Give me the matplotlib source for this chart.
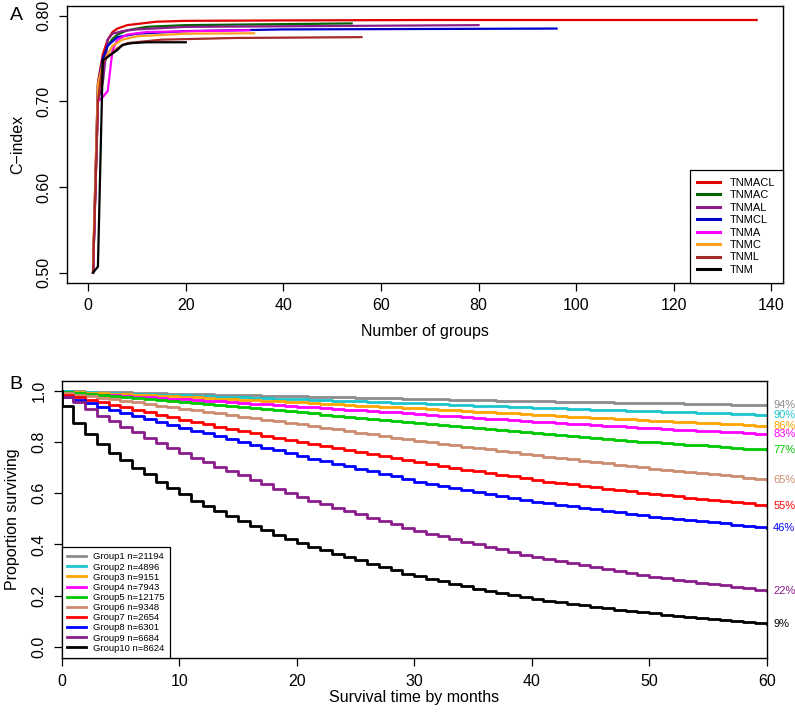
import numpy as np
import matplotlib.pyplot as plt

plt.rcParams['font.family'] = ['Liberation Sans', 'DejaVu Sans']

# ---- Panel A: C-index vs number of groups (polyline vertices)
models = ['TNMACL', 'TNMAC', 'TNMAL', 'TNMCL', 'TNMA', 'TNMC', 'TNML', 'TNM']
model_colors = ['#E00000', '#006400', '#8B1C8B', '#0000CD', '#FF00FF', '#FFA020', '#A52A2A', '#000000']

x_tnmacl = [1, 2, 3, 4, 5, 6, 8, 11, 14, 20, 40, 70, 137]
y_tnmacl = [0.505, 0.722, 0.755, 0.772, 0.781, 0.785, 0.789, 0.791, 0.793, 0.794, 0.7945, 0.795, 0.795]
x_tnmac = [1, 2, 3, 4, 5, 6, 8, 12, 20, 54]
y_tnmac = [0.500, 0.700, 0.745, 0.765, 0.773, 0.778, 0.783, 0.787, 0.789, 0.791]
x_tnmal = [1, 2, 3, 4, 5, 7, 10, 20, 80]
y_tnmal = [0.500, 0.700, 0.722, 0.772, 0.779, 0.782, 0.784, 0.787, 0.789]
x_tnmcl = [1, 2, 3, 4, 6, 10, 20, 40, 96]
y_tnmcl = [0.500, 0.720, 0.750, 0.765, 0.775, 0.779, 0.782, 0.784, 0.785]
x_tnma = [1, 2, 3, 4, 5, 6, 8, 12, 33]
y_tnma = [0.500, 0.700, 0.705, 0.712, 0.760, 0.772, 0.778, 0.781, 0.783]
x_tnmc = [1, 2, 3, 4, 5, 7, 10, 20, 34]
y_tnmc = [0.510, 0.720, 0.745, 0.755, 0.765, 0.772, 0.776, 0.779, 0.7795]
x_tnml = [1, 2, 3, 4, 6, 8, 15, 30, 56]
y_tnml = [0.500, 0.700, 0.745, 0.752, 0.762, 0.768, 0.772, 0.774, 0.775]
x_tnm = [1, 2, 3, 4, 5, 6, 7, 9, 12, 20]
y_tnm = [0.500, 0.507, 0.748, 0.752, 0.756, 0.760, 0.766, 0.768, 0.769, 0.769]

curves_a = [(x_tnmacl, y_tnmacl), (x_tnmac, y_tnmac), (x_tnmal, y_tnmal), (x_tnmcl, y_tnmcl),
            (x_tnma, y_tnma), (x_tnmc, y_tnmc), (x_tnml, y_tnml), (x_tnm, y_tnm)]

# ---- Panel B: Kaplan-Meier curves, monthly survival (value on [t, t+1))
months = list(range(61))
group_labels = ['Group1 n=21194', 'Group2 n=4896', 'Group3 n=9151', 'Group4 n=7943', 'Group5 n=12175',
                'Group6 n=9348', 'Group7 n=2654', 'Group8 n=6301', 'Group9 n=6684', 'Group10 n=8624']
group_colors = ['#8C8C8C', '#1CC4CC', '#FFA500', '#FF00FF', '#00C800',
                '#CC8C70', '#FF0000', '#0000FF', '#8B1C8B', '#000000']
end_labels = ['94%', '90%', '86%', '83%', '77%', '65%', '55%', '46%', '22%', '9%']

g1 = [0.998, 0.997, 0.996, 0.995, 0.994, 0.993, 0.992, 0.991, 0.990, 0.989, 0.988, 0.987, 0.986, 0.985, 0.984,
      0.983, 0.982, 0.981, 0.980, 0.979, 0.978, 0.977, 0.976, 0.975, 0.974, 0.973, 0.972, 0.971, 0.970, 0.969,
      0.968, 0.967, 0.966, 0.965, 0.964, 0.963, 0.962, 0.961, 0.960, 0.959, 0.959, 0.958, 0.957, 0.956, 0.955,
      0.955, 0.954, 0.953, 0.952, 0.952, 0.951, 0.950, 0.950, 0.949, 0.948, 0.948, 0.947, 0.946, 0.946, 0.945, 0.944]
g2 = [0.997, 0.995, 0.994, 0.992, 0.991, 0.989, 0.988, 0.986, 0.985, 0.983, 0.982, 0.980, 0.979, 0.977, 0.975,
      0.974, 0.972, 0.971, 0.969, 0.967, 0.966, 0.964, 0.963, 0.961, 0.959, 0.958, 0.956, 0.955, 0.953, 0.951,
      0.950, 0.948, 0.947, 0.945, 0.943, 0.942, 0.940, 0.939, 0.937, 0.935, 0.934, 0.932, 0.931, 0.929, 0.928,
      0.926, 0.925, 0.923, 0.922, 0.920, 0.919, 0.918, 0.916, 0.915, 0.913, 0.912, 0.911, 0.909, 0.908, 0.906, 0.905]
g3 = [0.996, 0.994, 0.992, 0.990, 0.988, 0.986, 0.984, 0.982, 0.980, 0.978, 0.976, 0.974, 0.972, 0.969, 0.967,
      0.965, 0.963, 0.961, 0.958, 0.956, 0.954, 0.952, 0.949, 0.947, 0.945, 0.942, 0.940, 0.938, 0.935, 0.933,
      0.931, 0.928, 0.926, 0.923, 0.921, 0.918, 0.916, 0.913, 0.911, 0.908, 0.906, 0.904, 0.901, 0.899, 0.897,
      0.894, 0.892, 0.890, 0.888, 0.885, 0.883, 0.881, 0.879, 0.877, 0.875, 0.872, 0.870, 0.868, 0.866, 0.864, 0.862]
g4 = [0.993, 0.990, 0.988, 0.985, 0.982, 0.980, 0.977, 0.974, 0.972, 0.969, 0.966, 0.963, 0.961, 0.958, 0.955,
      0.952, 0.949, 0.947, 0.944, 0.941, 0.938, 0.935, 0.932, 0.929, 0.926, 0.924, 0.921, 0.918, 0.915, 0.912,
      0.909, 0.906, 0.903, 0.900, 0.897, 0.894, 0.891, 0.888, 0.885, 0.882, 0.879, 0.876, 0.874, 0.871, 0.868,
      0.866, 0.863, 0.861, 0.858, 0.855, 0.853, 0.851, 0.848, 0.846, 0.844, 0.841, 0.839, 0.837, 0.835, 0.832, 0.830]
g5 = [0.994, 0.990, 0.986, 0.982, 0.978, 0.975, 0.971, 0.967, 0.963, 0.959, 0.955, 0.951, 0.947, 0.943, 0.939,
      0.935, 0.931, 0.927, 0.923, 0.919, 0.915, 0.911, 0.907, 0.902, 0.898, 0.894, 0.890, 0.886, 0.881, 0.877,
      0.873, 0.869, 0.865, 0.861, 0.857, 0.853, 0.849, 0.845, 0.841, 0.837, 0.833, 0.829, 0.826, 0.822, 0.819,
      0.815, 0.812, 0.808, 0.805, 0.801, 0.798, 0.795, 0.792, 0.789, 0.786, 0.783, 0.780, 0.777, 0.774, 0.771, 0.768]
g6 = [0.990, 0.984, 0.978, 0.972, 0.966, 0.960, 0.954, 0.948, 0.942, 0.936, 0.930, 0.924, 0.918, 0.911, 0.905,
      0.899, 0.893, 0.886, 0.880, 0.874, 0.868, 0.862, 0.855, 0.849, 0.843, 0.836, 0.830, 0.824, 0.817, 0.811,
      0.805, 0.799, 0.793, 0.788, 0.782, 0.776, 0.771, 0.765, 0.759, 0.754, 0.748, 0.743, 0.737, 0.732, 0.727,
      0.722, 0.716, 0.711, 0.706, 0.701, 0.696, 0.692, 0.687, 0.683, 0.678, 0.674, 0.669, 0.665, 0.660, 0.656, 0.651]
g7 = [0.985, 0.975, 0.965, 0.955, 0.945, 0.935, 0.925, 0.915, 0.905, 0.896, 0.886, 0.877, 0.868, 0.859, 0.851,
      0.842, 0.834, 0.825, 0.817, 0.808, 0.800, 0.792, 0.784, 0.776, 0.768, 0.760, 0.752, 0.744, 0.736, 0.728,
      0.720, 0.713, 0.706, 0.699, 0.692, 0.685, 0.678, 0.671, 0.665, 0.658, 0.651, 0.645, 0.640, 0.634, 0.629,
      0.623, 0.618, 0.612, 0.607, 0.601, 0.596, 0.591, 0.587, 0.582, 0.578, 0.573, 0.569, 0.564, 0.560, 0.555, 0.551]
g8 = [0.975, 0.962, 0.950, 0.938, 0.926, 0.914, 0.902, 0.890, 0.878, 0.867, 0.855, 0.844, 0.833, 0.822, 0.811,
      0.800, 0.789, 0.778, 0.767, 0.756, 0.745, 0.735, 0.725, 0.715, 0.705, 0.695, 0.685, 0.675, 0.665, 0.655,
      0.645, 0.637, 0.629, 0.621, 0.613, 0.605, 0.597, 0.589, 0.582, 0.574, 0.566, 0.560, 0.554, 0.548, 0.543,
      0.537, 0.531, 0.525, 0.519, 0.514, 0.508, 0.504, 0.499, 0.495, 0.490, 0.486, 0.482, 0.477, 0.473, 0.468, 0.464]
g9 = [0.977, 0.955, 0.928, 0.903, 0.880, 0.858, 0.837, 0.816, 0.796, 0.776, 0.757, 0.739, 0.721, 0.703, 0.686,
      0.669, 0.652, 0.635, 0.618, 0.601, 0.585, 0.571, 0.557, 0.543, 0.530, 0.517, 0.504, 0.491, 0.478, 0.465,
      0.452, 0.442, 0.431, 0.421, 0.411, 0.401, 0.390, 0.380, 0.370, 0.360, 0.350, 0.342, 0.334, 0.326, 0.318,
      0.311, 0.303, 0.295, 0.287, 0.280, 0.272, 0.267, 0.261, 0.256, 0.250, 0.245, 0.240, 0.234, 0.229, 0.223, 0.218]
g10 = [0.940, 0.875, 0.830, 0.790, 0.758, 0.729, 0.699, 0.673, 0.645, 0.619, 0.595, 0.570, 0.550, 0.530, 0.510,
       0.491, 0.472, 0.455, 0.438, 0.421, 0.405, 0.391, 0.377, 0.363, 0.350, 0.337, 0.323, 0.311, 0.298, 0.286,
       0.275, 0.265, 0.255, 0.245, 0.236, 0.227, 0.218, 0.209, 0.201, 0.193, 0.185, 0.179, 0.173, 0.167, 0.162,
       0.156, 0.151, 0.145, 0.140, 0.135, 0.130, 0.126, 0.122, 0.118, 0.113, 0.109, 0.105, 0.101, 0.097, 0.093, 0.089]
groups = [g1, g2, g3, g4, g5, g6, g7, g8, g9, g10]

fig = plt.figure(figsize=(7.95, 7.12), dpi=100)

# Panel A
axA = fig.add_axes([0.0839, 0.603, 0.901, 0.389])
for (xs, ys), name, c in zip(curves_a, models, model_colors):
    axA.plot(xs, ys, color=c, lw=1.6, label=name)
axA.set_xlim(-4.4, 142.4)
axA.set_ylim(0.4883, 0.8117)
axA.set_xticks(np.arange(0, 141, 20))
axA.set_yticks([0.5, 0.6, 0.7, 0.8])
axA.set_yticklabels(['0.50', '0.60', '0.70', '0.80'], rotation=90, va='center')
axA.set_xlabel('Number of groups', fontsize=11.5, labelpad=8)
axA.set_ylabel('C\u2212index', fontsize=11.5, labelpad=8)
axA.tick_params(labelsize=11.5, length=6, width=0.9, pad=5)
for s in axA.spines.values():
    s.set_linewidth(1.0)
legA = axA.legend(loc='lower right', fontsize=8, frameon=True, fancybox=False, edgecolor='black',
                  framealpha=1, borderaxespad=0, handlelength=2.0, handletextpad=0.9,
                  labelspacing=0.22, borderpad=0.7)
legA.get_frame().set_linewidth(0.9)
for line in legA.get_lines():
    line.set_linewidth(2.2)
fig.text(0.012, 0.978, 'A', fontsize=14, va='center')

# Panel B
axB = fig.add_axes([0.0776, 0.0754, 0.8868, 0.3899])
for vals, lab, c, end in zip(groups, group_labels, group_colors, end_labels):
    xs = [0] + months
    ys = [1.0] + vals
    axB.plot(xs, ys, drawstyle='steps-post', color=c, lw=2.0, label=lab)
    axB.text(60.55, vals[-1], end, color=c, fontsize=8, va='center', ha='left', clip_on=False)
axB.set_xlim(0, 60)
axB.set_ylim(-0.045, 1.039)
axB.set_xticks(np.arange(0, 61, 10))
axB.set_yticks(np.arange(0, 1.01, 0.2))
axB.set_yticklabels(['0.0', '0.2', '0.4', '0.6', '0.8', '1.0'], rotation=90, va='center')
axB.set_xlabel('Survival time by months', fontsize=11.5, labelpad=1)
axB.set_ylabel('Proportion surviving', fontsize=11.5, labelpad=8)
axB.tick_params(labelsize=11.5, length=6, width=0.9, pad=5)
for s in axB.spines.values():
    s.set_linewidth(1.0)
legB = axB.legend(loc='lower left', fontsize=6.8, frameon=True, fancybox=False, edgecolor='black',
                  framealpha=1, borderaxespad=0, handlelength=2.0, handletextpad=0.7,
                  labelspacing=0.12, borderpad=0.6)
legB.get_frame().set_linewidth(0.9)
fig.text(0.012, 0.46, 'B', fontsize=14, va='center')

fig.savefig('out.png', dpi=100)
